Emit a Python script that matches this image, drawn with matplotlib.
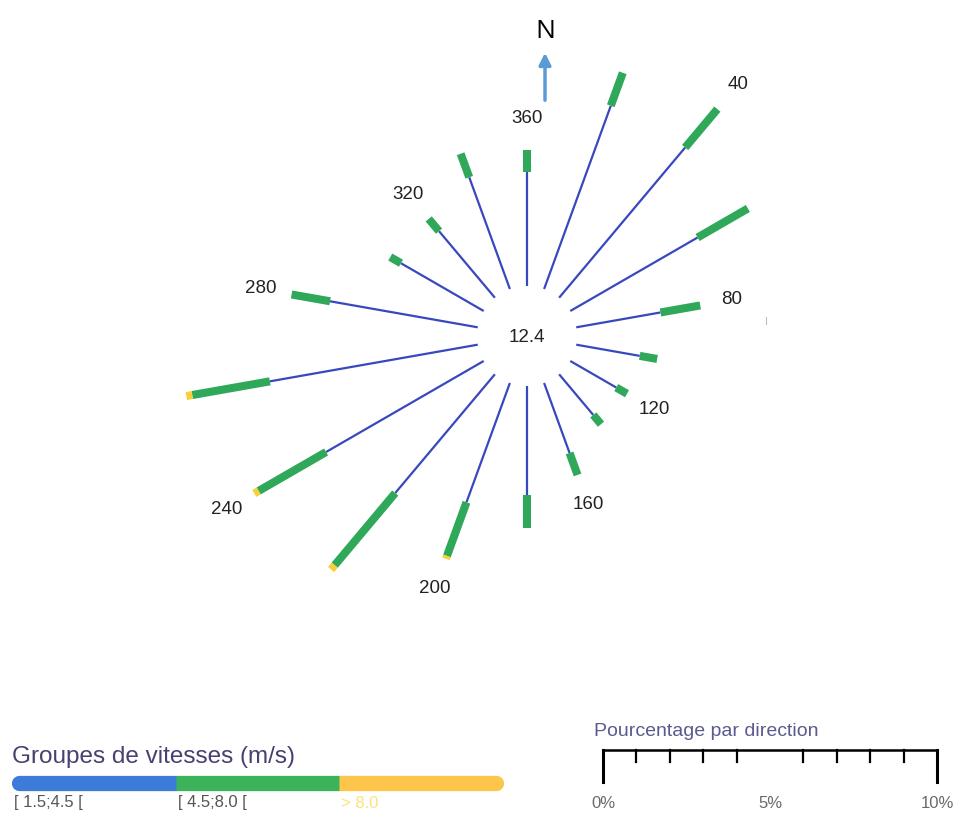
import numpy as np
import matplotlib
matplotlib.use('Agg')
import matplotlib.pyplot as plt

plt.rcParams['font.family'] = ['Liberation Sans', 'DejaVu Sans']

# wind directions (deg) and percentage per speed group
directions = [0, 20, 40, 60, 80, 100, 120, 140, 160, 180, 200, 220, 240, 260, 280, 300, 320, 340]
pct_low = [3.41, 5.84, 5.87, 4.40, 2.56, 1.93, 1.59, 1.59, 2.23, 3.26, 3.80, 4.64, 5.45, 6.32, 4.49, 2.86, 2.60, 3.56]
pct_mid = [0.66, 1.05, 1.50, 1.74, 1.21, 0.53, 0.37, 0.36, 0.70, 0.99, 1.71, 2.82, 2.33, 2.36, 1.17, 0.37, 0.48, 0.75]
pct_high = [0, 0, 0, 0, 0, 0, 0, 0, 0, 0, 0.09, 0.17, 0.15, 0.18, 0, 0, 0, 0]
labelled = [360, 40, 80, 120, 160, 200, 240, 280, 320]
calm = 12.4

groups = ['[ 1.5;4.5 [', '[ 4.5;8.0 [', '> 8.0']
group_colors = ['#3d7bd8', '#3cb35a', '#fdc54a']
spoke_colors = ['#3848be', '#2fa85a', '#f7cf3a']
scale_ticks = [0, 1, 2, 3, 4, 6, 7, 8, 9, 10]
scale_labels = {0: '0%', 5: '5%', 10: '10%'}

W, H = 960, 815
px_per_pct = 33.4
hole = 50 / px_per_pct
rmax = 10
R = (rmax + hole) * px_per_pct
cx, cy = 527, 336

fig = plt.figure(figsize=(W / 100, H / 100), dpi=100)
ax = fig.add_axes([(cx - R) / W, (H - cy - R) / H, 2 * R / W, 2 * R / H], projection='polar')
ax.set_theta_zero_location('N')
ax.set_theta_direction(-1)
ax.set_ylim(0, rmax)
ax.set_rorigin(-hole)
ax.axis('off')

for d, a, b, c in zip(directions, pct_low, pct_mid, pct_high):
    th = np.deg2rad(d)
    ax.plot([th, th], [0, a], color=spoke_colors[0], lw=1.6, solid_capstyle='butt', clip_on=False)
    ax.plot([th, th], [a, a + b], color=spoke_colors[1], lw=5.8, solid_capstyle='butt', clip_on=False)
    if c > 0:
        ax.plot([th, th], [a + b, a + b + c], color=spoke_colors[2], lw=5.8, solid_capstyle='butt', clip_on=False)

for lab in labelled:
    i = directions.index(lab % 360)
    tot = pct_low[i] + pct_mid[i] + pct_high[i]
    ax.text(np.deg2rad(lab), tot + 0.95, str(lab), ha='center', va='center', fontsize=13.5, color='#222222')

# overlay in pixel units for the centre text, north arrow and legends
ov = fig.add_axes([0, 0, 1, 1])
ov.set_xlim(0, W)
ov.set_ylim(H, 0)
ov.axis('off')

ov.text(cx, cy + 2, f'{calm:.1f}', ha='center', va='center', fontsize=13.5, color='#222222')
ov.annotate('', xy=(545, 50), xytext=(545, 103),
            arrowprops=dict(arrowstyle='-|>,head_width=0.35,head_length=0.7', color='#5b9bd5', lw=2.5))
ov.text(545, 31, 'N', ha='center', va='center', fontsize=19, color='black', family='Open Sans')
ov.text(767, 322, 'I', ha='center', va='center', fontsize=8, color='#bbbbbb')

# speed groups legend
ov.text(12, 757, 'Groupes de vitesses (m/s)', ha='left', va='center', fontsize=17.5, color='#4a3f70')
seg = (503 - 12) / len(groups)
bar_y = 783
ov.plot([12 + 7, 12 + seg], [bar_y, bar_y], color=group_colors[0], lw=11, solid_capstyle='round')
ov.plot([12 + 2 * seg, 503 - 7], [bar_y, bar_y], color=group_colors[2], lw=11, solid_capstyle='round')
ov.plot([12 + seg, 12 + 2 * seg], [bar_y, bar_y], color=group_colors[1], lw=11, solid_capstyle='butt')
for k, g in enumerate(groups):
    col = '#fbe27a' if k == 2 else '#555555'
    ov.text(14 + k * seg, 803, g, ha='left', va='center', fontsize=12, color=col)

# percentage scale
x0, sy = 603, 750
ov.text(594, 732, 'Pourcentage par direction', ha='left', va='center', fontsize=14, color='#5a5a90')
ov.plot([x0, x0 + 10 * px_per_pct], [sy, sy], color='black', lw=1.8)
for t in scale_ticks:
    x = x0 + t * px_per_pct
    low = 782 if t in (0, 10) else 762
    ov.plot([x, x], [sy, low], color='black', lw=2.2 if t in (0, 10) else 1.6)
for t, s in scale_labels.items():
    x = x0 + t * px_per_pct
    ov.text(min(x, W - 18), 803, s, ha='center', va='center', fontsize=12, color='#6a6a6a')

fig.savefig('out.png', dpi=100)
